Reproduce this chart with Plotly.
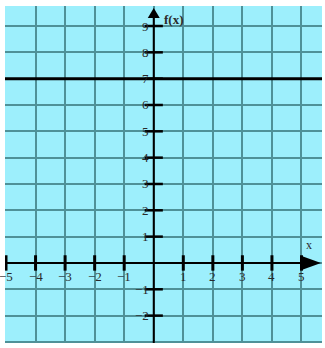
import plotly.graph_objects as go

# ---- data ----
X_RANGE = [-5.034, 5.694]
Y_RANGE = [-3.04, 9.76]
x_ticks = [-5, -4, -3, -2, -1, 1, 2, 3, 4, 5]
x_tick_labels = ["\u22125", "\u22124", "\u22123", "\u22122", "\u22121", "1", "2", "3", "4", "5"]
y_ticks = [-2, -1, 1, 2, 3, 4, 5, 6, 7, 8, 9]
y_tick_labels = ["\u22122", "\u22121", "1", "2", "3", "4", "5", "6", "7", "8", "9"]
f_x = [X_RANGE[0], X_RANGE[1]]
f_y = [7, 7]

BG = "#9deffc"
GRID = "#4f9198"
FONT = "Liberation Serif"
TXT = "#2a2a2a"

fig = go.Figure()

# axes lines
fig.add_trace(go.Scatter(x=[X_RANGE[0], 5.2], y=[0, 0], mode="lines",
                         line=dict(color="black", width=2), hoverinfo="skip"))
fig.add_trace(go.Scatter(x=[0, 0], y=[Y_RANGE[0], 9.45], mode="lines",
                         line=dict(color="black", width=2), hoverinfo="skip"))

# the function f(x) = 7
fig.add_trace(go.Scatter(x=f_x, y=f_y, mode="lines",
                         line=dict(color="black", width=3), hoverinfo="skip"))

# tick marks on axes
fig.add_trace(go.Scatter(x=x_ticks, y=[0] * len(x_ticks), mode="markers",
                         marker=dict(symbol="line-ns", size=11,
                                     line=dict(color="black", width=3)),
                         hoverinfo="skip"))
fig.add_trace(go.Scatter(x=[0] * len(y_ticks), y=y_ticks, mode="markers",
                         marker=dict(symbol="line-ew", size=13,
                                     line=dict(color="black", width=2.5)),
                         hoverinfo="skip"))

annotations = []
for xv, lab in zip(x_ticks, x_tick_labels):
    annotations.append(dict(x=xv, y=0, text=lab, showarrow=False,
                            xanchor="center", yanchor="middle", yshift=-14,
                            font=dict(family=FONT, size=13, color=TXT)))
for yv, lab in zip(y_ticks, y_tick_labels):
    annotations.append(dict(x=0, y=yv, text=lab, showarrow=False,
                            xanchor="right", yanchor="middle", xshift=-3,
                            font=dict(family=FONT, size=13, color=TXT)))
annotations.append(dict(x=0, y=Y_RANGE[1], text="<b>f(x)</b>", showarrow=False,
                        xanchor="left", yanchor="middle", xshift=8, yshift=-13,
                        font=dict(family=FONT, size=13, color=TXT)))
annotations.append(dict(x=X_RANGE[1], y=0, text="x", showarrow=False,
                        xanchor="center", yanchor="middle", xshift=-13, yshift=18,
                        font=dict(family=FONT, size=12, color=TXT)))

shapes = [
    # x-axis arrow head
    dict(type="path", xref="x", yref="y", xsizemode="pixel", ysizemode="pixel",
         xanchor=X_RANGE[1], yanchor=0,
         path="M-19,6.5 L-1,0 L-19,-6.5 Z",
         fillcolor="black", line=dict(width=0)),
    # y-axis arrow head
    dict(type="path", xref="x", yref="y", xsizemode="pixel", ysizemode="pixel",
         xanchor=0, yanchor=Y_RANGE[1],
         path="M-6,-12 L0,-2 L6,-12 Z",
         fillcolor="black", line=dict(width=0)),
]

fig.update_layout(
    width=325, height=348, autosize=False,
    margin=dict(l=5, r=3, t=6, b=5),
    paper_bgcolor="white", plot_bgcolor=BG,
    showlegend=False,
    annotations=annotations, shapes=shapes,
    xaxis=dict(range=X_RANGE, tick0=0, dtick=1, showgrid=True, gridcolor=GRID,
               gridwidth=2, zeroline=False, showticklabels=False, ticks="",
               showline=False, fixedrange=True),
    yaxis=dict(range=Y_RANGE, tick0=0, dtick=1, showgrid=True, gridcolor=GRID,
               gridwidth=2, zeroline=False, showticklabels=False, ticks="",
               showline=False, fixedrange=True),
)

fig.write_html("out.html", config={"displayModeBar": False},
               post_script="document.body.style.margin='0';document.body.style.overflow='hidden';")
